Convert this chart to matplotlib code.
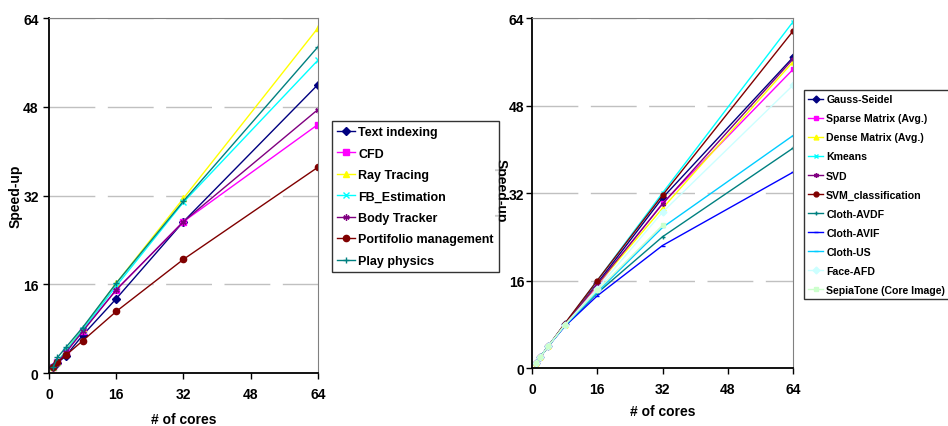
import matplotlib
matplotlib.use("Agg")
import matplotlib.pyplot as plt

plt.rcParams['font.family'] = ['Liberation Sans', 'DejaVu Sans']
plt.rcParams['font.weight'] = 'bold'

cores = [1, 2, 4, 8, 16, 32, 64]

# left chart
text_indexing = [1, 1.8, 3.1, 6.8, 13.4, 27.3, 52.0]
cfd = [1, 1.9, 3.7, 7.6, 15.0, 27.3, 44.8]
ray_tracing = [1, 2.0, 4.0, 8.0, 16.2, 31.5, 62.2]
fb_estimation = [1, 2.0, 4.0, 7.8, 15.7, 30.8, 56.4]
body_tracker = [1, 1.9, 3.7, 7.5, 15.0, 27.3, 47.5]
portfolio = [1, 1.9, 3.2, 5.8, 11.1, 20.5, 37.1]
play_physics = [1, 2.8, 4.6, 8.2, 16.2, 31.0, 58.8]

# right chart
gauss_seidel = [1, 2, 4, 8.0, 15.5, 31.1, 56.8]
sparse_matrix = [1, 2, 4, 7.9, 15.0, 30.1, 54.6]
dense_matrix = [1, 2, 4, 7.9, 15.2, 29.2, 56.0]
kmeans = [1, 2, 4, 8.0, 16.0, 32.0, 63.3]
svd = [1, 2, 4, 7.9, 15.3, 30.0, 56.5]
svm_classification = [1, 2, 4, 8.1, 16.0, 31.6, 61.6]
cloth_avdf = [1, 2, 4, 7.7, 13.7, 24.0, 40.2]
cloth_avif = [1, 2, 4, 7.6, 13.2, 22.4, 35.8]
cloth_us = [1, 2, 4, 7.7, 13.9, 25.7, 42.5]
face_afd = [1, 2, 4, 7.9, 14.5, 28.5, 51.7]
sepiatone = [1, 2, 4, 7.8, 14.2, 26.1]

left_series = [
    ("Text indexing", text_indexing, "#000080", "D"),
    ("CFD", cfd, "#FF00FF", "s"),
    ("Ray Tracing", ray_tracing, "#FFFF00", "^"),
    ("FB_Estimation", fb_estimation, "#00FFFF", "x"),
    ("Body Tracker", body_tracker, "#800080", (6, 2, 0)),
    ("Portifolio management", portfolio, "#800000", "o"),
    ("Play physics", play_physics, "#008080", "+"),
]

right_series = [
    ("Gauss-Seidel", gauss_seidel, "#000080", "D"),
    ("Sparse Matrix (Avg.)", sparse_matrix, "#FF00FF", "s"),
    ("Dense Matrix (Avg.)", dense_matrix, "#FFFF00", "^"),
    ("Kmeans", kmeans, "#00FFFF", "x"),
    ("SVD", svd, "#800080", (6, 2, 0)),
    ("SVM_classification", svm_classification, "#800000", "o"),
    ("Cloth-AVDF", cloth_avdf, "#008080", "+"),
    ("Cloth-AVIF", cloth_avif, "#0000FF", "_"),
    ("Cloth-US", cloth_us, "#00CCFF", "_"),
    ("Face-AFD", face_afd, "#CCFFFF", "D"),
    ("SepiaTone (Core Image)", sepiatone, "#CCFFCC", "s"),
]


def style_axes(ax):
    ax.set_xlim(0, 64)
    ax.set_ylim(0, 64)
    ax.set_xticks([0, 16, 32, 48, 64])
    ax.set_yticks([0, 16, 32, 48, 64])
    ax.tick_params(labelsize=10, length=4, width=1)
    ax.tick_params(axis='x', pad=6)
    for lab in ax.get_xticklabels() + ax.get_yticklabels():
        lab.set_fontweight('bold')
    ax.grid(axis='y', color='#c0c0c0', linestyle=(0, (33, 9)), linewidth=1)
    ax.spines['left'].set_linewidth(1.3)
    ax.spines['bottom'].set_linewidth(1.3)
    ax.spines['top'].set_color('#808080')
    ax.spines['right'].set_color('#808080')
    ax.set_axisbelow(True)


fig = plt.figure(figsize=(9.48, 4.27), dpi=100)
ax1 = fig.add_axes([0.0517, 0.1241, 0.2837, 0.8314])
ax2 = fig.add_axes([0.5612, 0.1358, 0.2753, 0.8197])

for name, vals, color, mk in left_series:
    ax1.plot(cores[:len(vals)], vals, color=color, marker=mk, markersize=4.5,
             linewidth=1, label=name)
for name, vals, color, mk in right_series:
    ax2.plot(cores[:len(vals)], vals, color=color, marker=mk, markersize=3.5,
             linewidth=1, label=name)

for ax in (ax1, ax2):
    style_axes(ax)
    ax.set_xlabel("# of cores", fontsize=10, fontweight='bold')
ax2.tick_params(axis='y', pad=1.5)

ax1.set_ylabel("Speed-up", fontsize=10, fontweight='bold')
ax1.yaxis.set_label_coords(-0.10, 0.5)
ax1.xaxis.set_label_coords(0.5, -0.11)
ax2.set_ylabel("Speed-up", fontsize=10, fontweight='bold', rotation=270, va='center')
ax2.yaxis.set_label_coords(-0.121, 0.51)
ax2.xaxis.set_label_coords(0.5, -0.103)

leg1 = fig.legend(handles=ax1.get_lines(), loc='upper left',
                  bbox_to_anchor=(332 / 948, 1 - 122 / 427),
                  prop={'size': 9, 'weight': 'bold'}, frameon=True, fancybox=False,
                  edgecolor='black', handlelength=1.4, handletextpad=0.3,
                  labelspacing=0.76, borderpad=0.4, borderaxespad=0)
leg1.get_frame().set_linewidth(1)

leg2 = fig.legend(handles=ax2.get_lines(), loc='upper left',
                  bbox_to_anchor=(804 / 948, 1 - 91 / 427),
                  prop={'size': 7.6, 'weight': 'bold'}, frameon=True, fancybox=False,
                  edgecolor='black', handlelength=1.4, handletextpad=0.3,
                  labelspacing=0.86, borderpad=0.4, borderaxespad=0)
leg2.get_frame().set_linewidth(1)

fig.savefig("out.png", dpi=100)
